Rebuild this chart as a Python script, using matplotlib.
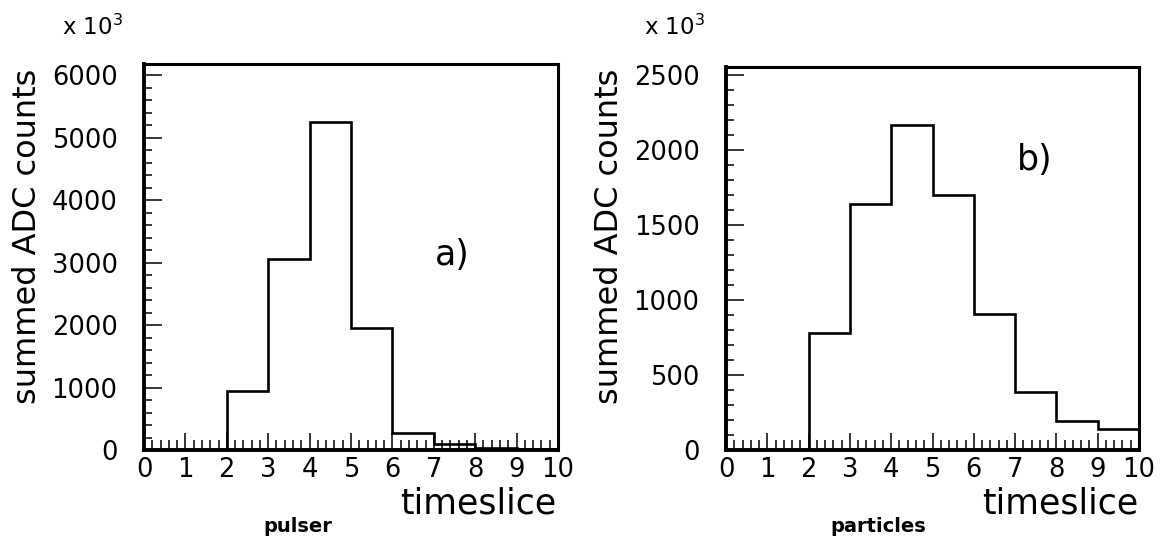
import matplotlib
matplotlib.use("Agg")
import matplotlib.pyplot as plt
from matplotlib.ticker import MultipleLocator
import numpy as np

# ---- data ----
bin_edges = [0, 1, 2, 3, 4, 5, 6, 7, 8, 9, 10]
pulser_counts = [0, 0, 944, 3050, 5255, 1954, 273, 90, 40, 15]        # x 10^3
particles_counts = [0, 0, 776, 1640, 2167, 1700, 905, 389, 195, 140]  # x 10^3
x_tick_labels = ["0", "1", "2", "3", "4", "5", "6", "7", "8", "9", "10"]
y_label = "summed ADC counts"
x_label = "timeslice"
panel_tags = ["a)", "b)"]
panel_titles = ["pulser", "particles"]

W, H = 1164, 538
fig = plt.figure(figsize=(W / 100, H / 100), dpi=100)
plt.rcParams['font.family'] = ['DejaVu Sans']

def px(x0, y0, x1, y1):
    return [x0 / W, 1 - y1 / H, (x1 - x0) / W, (y1 - y0) / H]

panels = [
    dict(rect=px(144, 64, 558, 450), vals=pulser_counts, ymax=6180, major=1000, minor=200,
         tag_xy=(452, 255), title_x=298, off=0),
    dict(rect=px(726, 67, 1139, 450), vals=particles_counts, ymax=2550, major=500, minor=100,
         tag_xy=(1035, 160), title_x=878, off=582),
]

for i, p in enumerate(panels):
    ax = fig.add_axes(p["rect"])
    ax.stairs(p["vals"], bin_edges, color="black", linewidth=1.9)
    ax.set_xlim(0, 10)
    ax.set_ylim(0, p["ymax"])
    ax.xaxis.set_major_locator(MultipleLocator(1))
    ax.xaxis.set_minor_locator(MultipleLocator(0.2))
    ax.yaxis.set_major_locator(MultipleLocator(p["major"]))
    ax.yaxis.set_minor_locator(MultipleLocator(p["minor"]))
    ax.set_xticks(range(11))
    ax.set_xticklabels(x_tick_labels)
    for s in ax.spines.values():
        s.set_linewidth(2.2)
    ax.spines["left"].set_linewidth(2.8)
    ax.spines["bottom"].set_linewidth(2.8)
    ax.tick_params(axis="x", which="major", direction="in", length=12, width=1.1,
                   labelsize=18.5, pad=5, top=False)
    ax.tick_params(axis="x", which="minor", direction="in", length=7, width=1.1, top=False)
    ax.tick_params(axis="y", which="major", direction="in", length=13, width=1.1,
                   labelsize=18.5, pad=19, right=False)
    ax.tick_params(axis="y", which="minor", direction="in", length=6, width=1.1, right=False)

    off = p["off"]
    # y axis title
    fig.text((28 + off) / W, 1 - 236 / H, y_label, rotation=90, fontsize=23,
             ha="center", va="center")
    # x axis title
    fig.text((556 + off) / W, 1 - 503 / H, x_label, fontsize=25, ha="right", va="center")
    # multiplier
    fig.text((62 + off) / W, 1 - 27 / H, r"x 10$^{3}$", fontsize=16.5, ha="left", va="center")
    # panel tag
    fig.text(p["tag_xy"][0] / W, 1 - p["tag_xy"][1] / H, panel_tags[i], fontsize=25,
             ha="center", va="center")
    # sub title
    fig.text(p["title_x"] / W, 1 - 526 / H, panel_titles[i], fontsize=14,
             fontweight="bold", ha="center", va="center")

fig.savefig("out.png", dpi=100)
